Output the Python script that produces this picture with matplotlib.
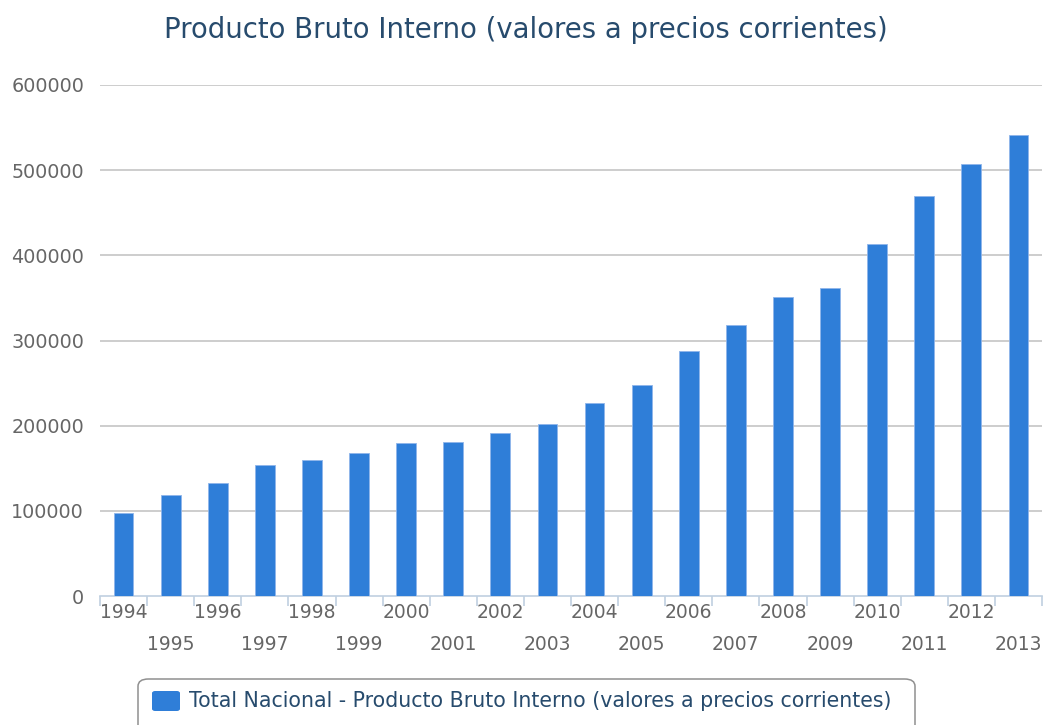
import matplotlib
matplotlib.use("Agg")
import matplotlib.pyplot as plt
from matplotlib.patches import FancyBboxPatch
import numpy as np

years = [str(y) for y in range(1994, 2014)]
values = [97700, 118800, 132900, 154100, 160000, 168200, 180000, 181200, 191800, 202400,
          227000, 248200, 288200, 318100, 351300, 361900, 413800, 470100, 507600, 541300]
title = "Producto Bruto Interno (valores a precios corrientes)"
series_name = "Total Nacional - Producto Bruto Interno (valores a precios corrientes)"
yticks = [0, 100000, 200000, 300000, 400000, 500000, 600000]

plt.rcParams['font.family'] = ['DejaVu Sans']
W, H = 1045, 725
fig = plt.figure(figsize=(W / 100, H / 100), dpi=100)
x0, x1, ytop, ybot = 100, 1042, 85, 596
ax = fig.add_axes([x0 / W, 1 - ybot / H, (x1 - x0) / W, (ybot - ytop) / H])

bar_color = '#2f7ed8'
x = np.arange(len(years))
ax.bar(x, values, width=0.42, color=bar_color, edgecolor='#8fb5ea', linewidth=0.6, zorder=3)
ax.set_xlim(-0.5, len(years) - 0.5)
ax.set_ylim(0, 600000)

for s in ['top', 'right', 'left']:
    ax.spines[s].set_visible(False)
ax.spines['bottom'].set_color('#C0D0E0')
ax.spines['bottom'].set_linewidth(1.2)

ax.set_yticks(yticks)
ax.set_yticklabels([str(v) for v in yticks], fontsize=13.8, color='#666666')
ax.tick_params(axis='y', length=0, pad=11.5)
for v in yticks[1:]:
    ax.axhline(v, color='#C0C0C0', linewidth=1.1, zorder=1)

# category boundary ticks
ax.set_xticks(np.arange(len(years) + 1) - 0.5, minor=False)
ax.set_xticklabels([''] * (len(years) + 1))
ax.tick_params(axis='x', length=7, color='#C0D0E0', width=1.2, direction='out')
for i, lab in enumerate(years):
    off = 16 if i % 2 == 0 else 48
    ax.annotate(lab, xy=(i, 0), xycoords=('data', 'axes fraction'),
                xytext=(0, -off), textcoords='offset pixels',
                ha='center', va='center', fontsize=13.5, color='#666666')

fig.text(526 / W, 1 - 30 / H, title, ha='center', va='center', fontsize=19.8, color='#274b6d')

# legend box
lb = FancyBboxPatch((138 / W, 1 - 740 / H), (915 - 138) / W, (740 - 679) / H,
                    boxstyle='round,pad=0,rounding_size=0.01', transform=fig.transFigure,
                    facecolor='white', edgecolor='#909090', linewidth=1.1)
fig.patches.append(lb)
mk = FancyBboxPatch((152 / W, 1 - 711 / H), 28 / W, 20 / H,
                    boxstyle='round,pad=0,rounding_size=0.003', transform=fig.transFigure,
                    facecolor=bar_color, edgecolor='none')
fig.patches.append(mk)
fig.text(189 / W, 1 - 701 / H, series_name, ha='left', va='center', fontsize=14.8, color='#274b6d')

fig.savefig('out.png', dpi=100)
